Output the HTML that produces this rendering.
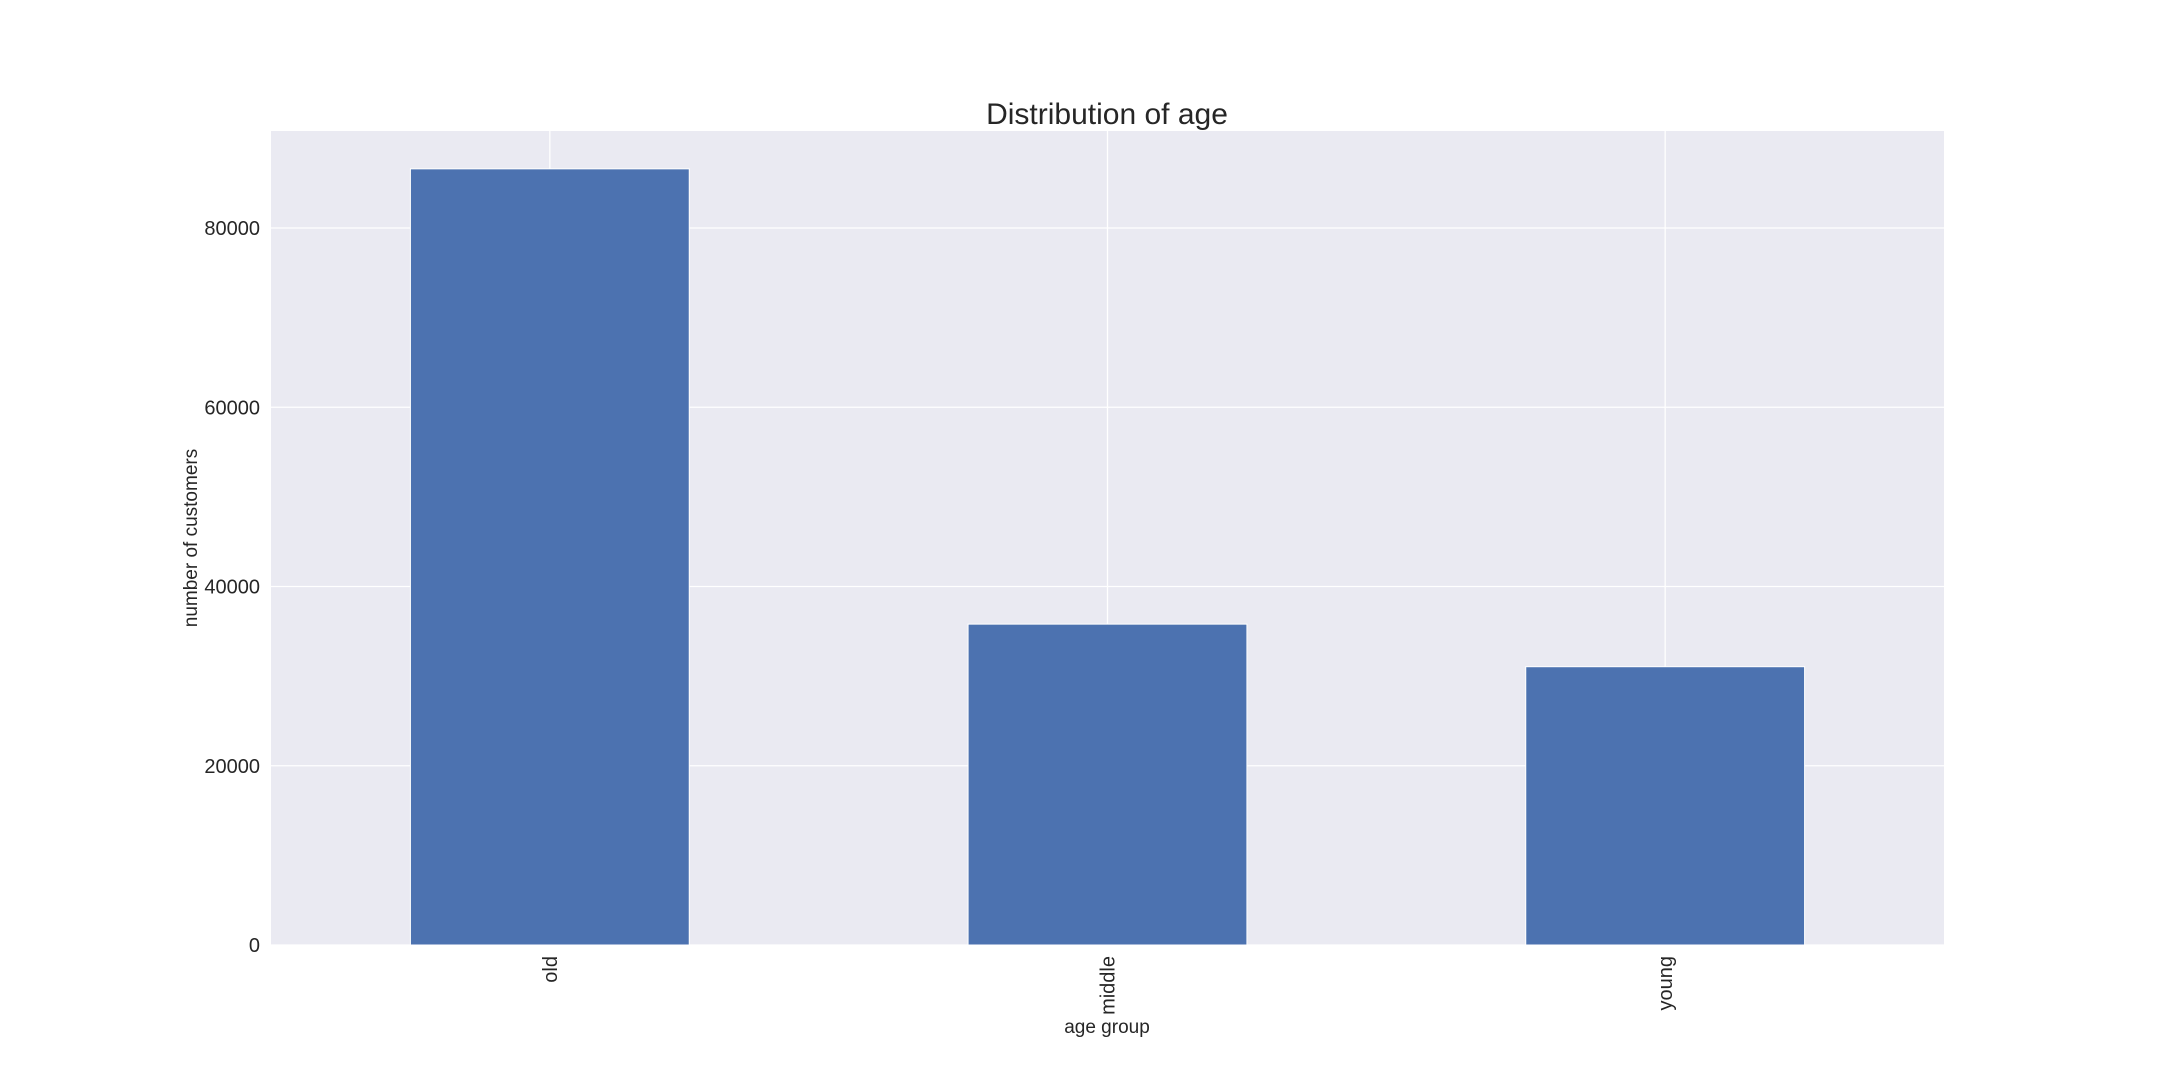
<!DOCTYPE html>
<html><head><meta charset="utf-8"><style>
html,body{margin:0;padding:0;background:#fff;}
svg{display:block;font-family:"Liberation Sans",Arial,sans-serif;}
</style></head><body>
<svg id="chart" width="2160" height="1080" viewBox="0 0 2160 1080">
<rect x="0" y="0" width="2160" height="1080" fill="#fff"/>
<rect x="271" y="131" width="1673" height="814" fill="#eaeaf2"/>
<g id="grid"></g>
<g id="bars"></g>
<g id="yticks"></g>
<g id="xticks"></g>
<text x="1107" y="124" text-anchor="middle" font-size="30" fill="#262626">Distribution of age</text>
<text x="1107" y="1033" text-anchor="middle" font-size="19" fill="#262626">age group</text>
<text transform="translate(197,538) rotate(-90)" text-anchor="middle" font-size="19" fill="#262626">number of customers</text>
</svg>
<script>
const categories = ["old", "middle", "young"];
const values = [86600, 35800, 31050];
const yTicks = [0, 20000, 40000, 60000, 80000];
const yTickLabels = ["0", "20000", "40000", "60000", "80000"];

const NS = "http://www.w3.org/2000/svg";
const L = 271, R = 1944, T = 131, B = 945;
const yMax = (80000 * (B - T)) / (B - 228);
function yScale(v){ return B - v / yMax * (B - T); }
const step = (R - L) / categories.length;
function xScale(i){ return L + step * (i + 0.5); }
function mk(tag, attrs, parent){
  const e = document.createElementNS(NS, tag);
  for (const k in attrs) e.setAttribute(k, attrs[k]);
  document.getElementById(parent).appendChild(e);
  return e;
}
yTicks.forEach((t, i) => {
  const y = yScale(t);
  const g = mk("line", {x1: L, x2: R, y1: y, y2: y, stroke: "#fff", "stroke-width": 1.3}, "grid");
  
  
  const tx = mk("text", {x: 260, y: y + 7, "text-anchor": "end", "font-size": 20, fill: "#262626"}, "yticks");
  tx.textContent = yTickLabels[i];
  
  
});
categories.forEach((c, i) => {
  const x = xScale(i);
  const g = mk("line", {x1: x, x2: x, y1: T, y2: B, stroke: "#fff", "stroke-width": 1.3}, "grid");
  
  
  const w = step * 0.5;
  const y = yScale(values[i]);
  const b = mk("rect", {x: x - w/2, y: y, width: w, height: B - y, fill: "#4c72b0", stroke: "#fff", "stroke-width": 1}, "bars");
  
  
  const tx = mk("text", {transform: "translate(" + (x + 7) + ",956) rotate(-90)", "text-anchor": "end", "font-size": 20, fill: "#262626"}, "xticks");
  tx.textContent = c;
  
  
});
</script>
</body></html>
